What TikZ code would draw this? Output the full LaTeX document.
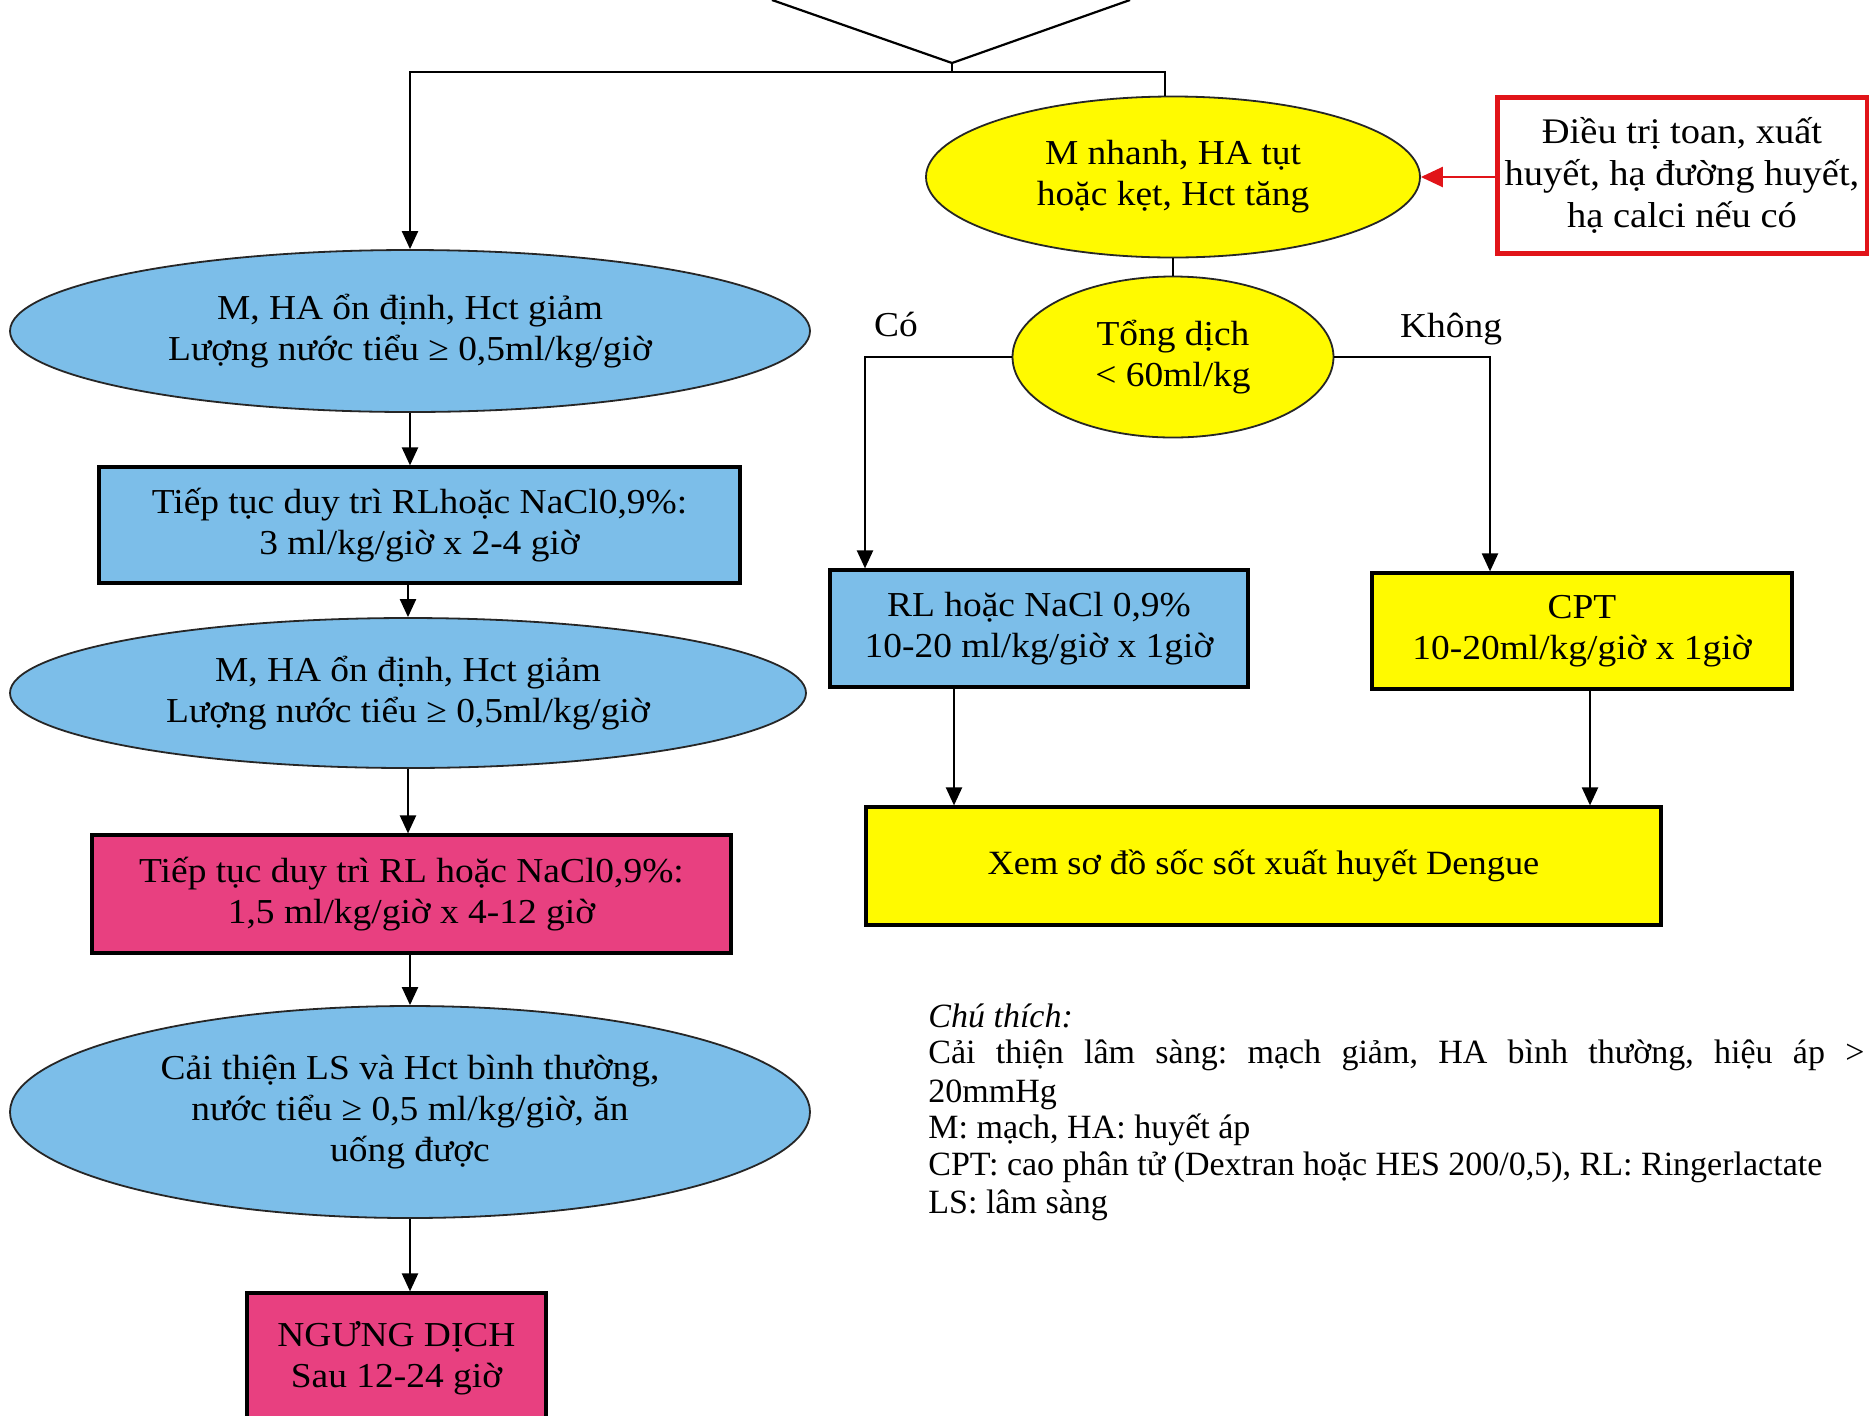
\documentclass[tikz,border=0pt]{standalone}
\usepackage{fontspec}
\setmainfont{Liberation Serif}[FakeStretch=1.07]
\newfontfamily\notefont{Liberation Serif}
\usetikzlibrary{shapes.geometric,arrows.meta}
\definecolor{skyfill}{RGB}{124,190,233}
\definecolor{pinkfill}{RGB}{232,64,128}
\definecolor{yelfill}{RGB}{255,250,0}
\definecolor{redline}{RGB}{225,20,25}
\frenchspacing
\begin{document}
\begin{tikzpicture}[x=0.5pt,y=-0.5pt,
  txt/.style={font=\fontsize{17.5}{20.5}\selectfont, align=center, text=black},
  note/.style={font=\notefont\fontsize{17}{20}\selectfont, anchor=base west, inner sep=0pt, text=black},
  oval/.style={ellipse, draw=black!85, line width=0.9pt, inner sep=0pt, txt},
  box/.style={rectangle, draw=black, line width=1.6pt, inner sep=0pt, txt},
  link/.style={line width=1.1pt, draw=black},
  arr/.style={link, -{Triangle[length=9pt,width=8pt]}},
]
\useasboundingbox (0,0) rectangle (1869,1415);
\clip (0,0) rectangle (1869,1415);
\fill[white] (0,0) rectangle (1869,1415);

% incoming branches at the top
\coordinate (vl) at (772,0);
\coordinate (vtip) at (952,63);
\coordinate (vr) at (1130,0);
\coordinate (hm) at (952,72);
\coordinate (yr) at (1165,0);

% left column
\node[oval, fill=skyfill, minimum width=400pt, minimum height=81pt] (e1) at (410,331)
  {M, HA ổn định, Hct giảm\\Lượng nước tiểu ≥ 0,5ml/kg/giờ};
\node[box, fill=skyfill, minimum width=320.5pt, minimum height=58pt] (b1) at (419.5,525)
  {Tiếp tục duy trì RLhoặc NaCl0,9\%:\\3 ml/kg/giờ x 2-4 giờ};
\node[oval, fill=skyfill, minimum width=398pt, minimum height=75pt] (e2) at (408,693)
  {M, HA ổn định, Hct giảm\\Lượng nước tiểu ≥ 0,5ml/kg/giờ};
\node[box, fill=pinkfill, minimum width=319.5pt, minimum height=59pt] (b2) at (411.5,894)
  {Tiếp tục duy trì RL hoặc NaCl0,9\%:\\1,5 ml/kg/giờ x 4-12 giờ};
\node[oval, fill=skyfill, minimum width=400pt, minimum height=106pt] (e3) at (410,1112)
  {Cải thiện LS và Hct bình thường,\\nước tiểu ≥ 0,5 ml/kg/giờ, ăn\\uống được};
\node[box, fill=pinkfill, minimum width=149.5pt, minimum height=65pt] (b3) at (396.5,1358)
  {NGƯNG DỊCH\\Sau 12-24 giờ};

% right column
\node[oval, fill=yelfill, minimum width=247pt, minimum height=80.5pt] (y1) at (1173,177)
  {M nhanh, HA tụt\\hoặc kẹt, Hct tăng};
\node[box, draw=redline, line width=2.5pt, fill=white, minimum width=185pt, minimum height=78pt,
  font=\fontsize{18}{21}\selectfont] (r) at (1682,175)
  {Điều trị toan, xuất\\huyết, hạ đường huyết,\\hạ calci nếu có};
\node[oval, fill=yelfill, minimum width=160.5pt, minimum height=80.5pt] (y2) at (1173,357)
  {Tổng dịch\\< 60ml/kg};
\node[txt] (co) at (896,324) {Có};
\node[txt] (khong) at (1451,329) {Không};
\node[box, fill=skyfill, minimum width=209pt, minimum height=58.5pt] (rl) at (1039,628.5)
  {RL hoặc NaCl 0,9\%\\10-20 ml/kg/giờ x 1giờ};
\node[box, fill=yelfill, minimum width=210pt, minimum height=58pt] (cpt) at (1582,631)
  {CPT\\10-20ml/kg/giờ x 1giờ};
\node[box, fill=yelfill, minimum width=397.5pt, minimum height=59pt,
  font=\fontsize{17}{20.5}\selectfont] (xem) at (1263.5,866)
  {Xem sơ đồ sốc sốt xuất huyết Dengue};

% connectors
\draw[link] (vl) -- (vtip) -- (vr);
\draw[link] (vtip) -- (hm);
\draw[arr] (yr |- y1.north) -- (yr |- hm) -- (e1.north |- hm) -- (e1.north);
\draw[arr] (e1.south) -- (e1.south |- b1.north);
\draw[arr] (b1.south -| e2.north) -- (e2.north);
\draw[arr] (e2.south) -- (e2.south |- b2.north);
\draw[arr] (b2.south -| e3.north) -- (e3.north);
\draw[arr] (e3.south) -- (e3.south |- b3.north);

\draw[line width=1.2pt, draw=redline, -{Triangle[length=11pt,width=10pt]}]
  (y1.east -| r.west) -- (y1.east);
\draw[link] (y1.south) -- (y2.north);
\coordinate (cox) at (865,0);
\coordinate (kx) at (1490,0);
\draw[arr] (y2.west) -| (cox |- rl.north);
\draw[arr] (y2.east) -| (kx |- cpt.north);
\coordinate (ra) at (954,0);
\coordinate (ca) at (1590,0);
\draw[arr] (ra |- rl.south) -- (ra |- xem.north);
\draw[arr] (ca |- cpt.south) -- (ca |- xem.north);

% legend
\node[note, font=\notefont\fontsize{17}{20}\selectfont\itshape] (n0) at (928,1027) {Chú thích:};
\node[note] (n1) at (928,1063)
  {\makebox[468pt][s]{Cải thiện lâm sàng: mạch giảm, HA bình thường, hiệu áp >}};
\node[note] (n2) at (928,1102) {20mmHg};
\node[note] (n3) at (928,1138) {M: mạch, HA: huyết áp};
\node[note] (n4) at (928,1175) {CPT: cao phân tử (Dextran hoặc HES 200/0,5), RL: Ringerlactate};
\node[note] (n5) at (928,1213) {LS: lâm sàng};
\end{tikzpicture}
\end{document}
